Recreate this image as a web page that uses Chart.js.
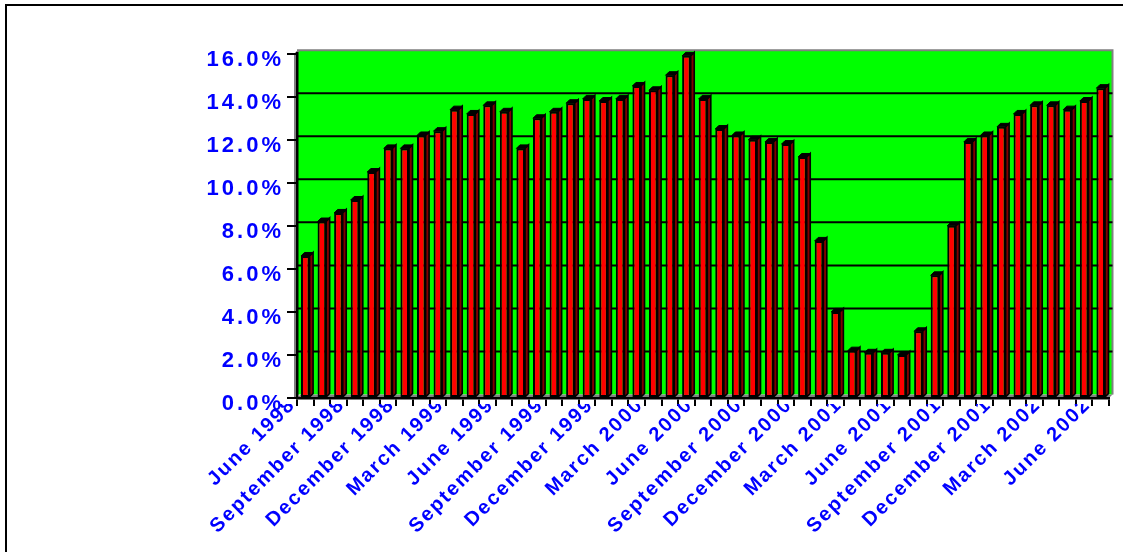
<!DOCTYPE html>
<html>
<head>
<meta charset="utf-8">
<script src="https://cdn.jsdelivr.net/npm/chart.js@4/dist/chart.umd.min.js"></script>
<style>
  html, body { margin: 0; padding: 0; background: #ffffff; overflow: hidden; }
  canvas { display: block; }
</style>
</head>
<body>
<canvas id="chart" width="1126" height="552"></canvas>
<script>
// Monthly categories, June 1998 – June 2002
const months = [
  'June 1998', 'July 1998', 'August 1998', 'September 1998', 'October 1998', 'November 1998', 'December 1998',
  'January 1999', 'February 1999', 'March 1999', 'April 1999', 'May 1999', 'June 1999', 'July 1999',
  'August 1999', 'September 1999', 'October 1999', 'November 1999', 'December 1999',
  'January 2000', 'February 2000', 'March 2000', 'April 2000', 'May 2000', 'June 2000', 'July 2000',
  'August 2000', 'September 2000', 'October 2000', 'November 2000', 'December 2000',
  'January 2001', 'February 2001', 'March 2001', 'April 2001', 'May 2001', 'June 2001', 'July 2001',
  'August 2001', 'September 2001', 'October 2001', 'November 2001', 'December 2001',
  'January 2002', 'February 2002', 'March 2002', 'April 2002', 'May 2002', 'June 2002'
];

// Rate for each month, in percent
const rates = [
  6.6, 8.2, 8.6, 9.2, 10.5, 11.6, 11.6,
  12.2, 12.4, 13.4, 13.2, 13.6, 13.3, 11.6,
  13.0, 13.3, 13.7, 13.9, 13.8,
  13.9, 14.5, 14.3, 15.0, 15.9, 13.9, 12.5,
  12.2, 12.0, 11.9, 11.8, 11.2,
  7.3, 4.0, 2.2, 2.1, 2.1, 2.0, 3.1,
  5.7, 8.0, 11.9, 12.2, 12.6,
  13.2, 13.6, 13.6, 13.4, 13.8, 14.4
];

// Value axis ticks, in percent
const yTickValues = [0, 2, 4, 6, 8, 10, 12, 14, 16];

// Every third month carries a label
const labelEvery = 3;

const DEPTH = 3.5;
const FONT = "'Liberation Sans', Arial, sans-serif";
const BLUE = '#0000ff';
const GREEN = '#00ff00';
const GRAY = '#808080';

// Category axis whose labels are clipped just below the tick marks
const BaseCategory = Chart.registry.getScale('category');
class ClippedCategory extends BaseCategory {
  drawLabels(chartArea) {
    const ctx = this.ctx;
    ctx.save();
    ctx.letterSpacing = '2px';
    ctx.beginPath();
    ctx.rect(0, this.top + 6, this.chart.width, this.chart.height);
    ctx.clip();
    super.drawLabels(chartArea);
    ctx.restore();
  }
}
ClippedCategory.id = 'clippedCategory';
ClippedCategory.defaults = BaseCategory.defaults;
Chart.register(ClippedCategory);

// Wide letter spacing for the value labels
const spacing = {
  id: 'spacing',
  beforeUpdate(chart) { chart.ctx.letterSpacing = '3px'; },
  beforeDraw(chart) { chart.ctx.letterSpacing = '3px'; }
};

// Outer frame, back wall, floor and back-wall grid lines
const walls = {
  id: 'walls',
  beforeDraw(chart) {
    const ctx = chart.ctx;
    const { left: L, right: R, top: T, bottom: B } = chart.chartArea;
    const y = chart.scales.y;
    ctx.save();
    ctx.fillStyle = '#000';
    ctx.fillRect(6, 4, 1117, 2);
    ctx.fillRect(5, 4, 2, chart.height);

    // back wall
    ctx.fillStyle = GREEN;
    ctx.fillRect(L, T - DEPTH, R + DEPTH - L, B - T);
    ctx.strokeStyle = GRAY;
    ctx.lineWidth = 2;
    ctx.beginPath();
    ctx.moveTo(L, T - DEPTH);
    ctx.lineTo(R + DEPTH, T - DEPTH);
    ctx.lineTo(R + DEPTH, B - DEPTH);
    ctx.stroke();

    // left side wall
    ctx.fillStyle = GRAY;
    ctx.beginPath();
    ctx.moveTo(L - 3, T);
    ctx.lineTo(L - 3 + DEPTH, T - DEPTH);
    ctx.lineTo(L + DEPTH, T - DEPTH);
    ctx.lineTo(L, T);
    ctx.lineTo(L, B);
    ctx.lineTo(L - 3, B);
    ctx.closePath();
    ctx.fill();

    // grid lines on the back wall
    ctx.strokeStyle = '#000';
    ctx.lineWidth = 2;
    yTickValues.forEach(v => {
      if (v === y.min || v === y.max) return;
      const py = y.getPixelForValue(v) - DEPTH;
      ctx.beginPath();
      ctx.moveTo(L, py);
      ctx.lineTo(R + DEPTH, py);
      ctx.stroke();
    });

    // floor
    ctx.fillStyle = GRAY;
    ctx.beginPath();
    ctx.moveTo(L, B);
    ctx.lineTo(L + DEPTH, B - DEPTH);
    ctx.lineTo(R + DEPTH, B - DEPTH);
    ctx.lineTo(R, B);
    ctx.closePath();
    ctx.fill();
    ctx.restore();
  }
};

// Side and top faces of each bar
const barFaces = {
  id: 'barFaces',
  afterDatasetsDraw(chart) {
    const ctx = chart.ctx;
    const meta = chart.getDatasetMeta(0);
    ctx.save();
    ctx.strokeStyle = '#000';
    ctx.lineJoin = 'miter';
    meta.data.forEach(bar => {
      const { x, y, base, width } = bar.getProps(['x', 'y', 'base', 'width'], true);
      const l = x - width / 2, r = x + width / 2;
      ctx.beginPath();
      ctx.moveTo(r, y);
      ctx.lineTo(r + DEPTH, y - DEPTH);
      ctx.lineTo(r + DEPTH, base - DEPTH);
      ctx.lineTo(r, base);
      ctx.closePath();
      ctx.fillStyle = '#800000';
      ctx.fill();
      ctx.lineWidth = 1.6;
      ctx.stroke();

      ctx.beginPath();
      ctx.moveTo(l, y);
      ctx.lineTo(l + DEPTH, y - DEPTH);
      ctx.lineTo(r + DEPTH, y - DEPTH);
      ctx.lineTo(r, y);
      ctx.closePath();
      ctx.fillStyle = '#000';
      ctx.fill();
      ctx.lineWidth = 1;
      ctx.stroke();
    });
    ctx.restore();
  }
};

new Chart(document.getElementById('chart'), {
  type: 'bar',
  data: {
    labels: months,
    datasets: [{
      data: rates,
      backgroundColor: '#ff0000',
      borderColor: '#000000',
      borderWidth: 2,
      borderSkipped: false,
      barPercentage: 0.52,
      categoryPercentage: 1.0
    }]
  },
  options: {
    responsive: false,
    devicePixelRatio: 1,
    animation: false,
    events: [],
    layout: { padding: { top: 53.7, right: 17, left: 0, bottom: 0 } },
    plugins: {
      legend: { display: false },
      tooltip: { enabled: false },
      title: { display: false }
    },
    scales: {
      x: {
        type: 'clippedCategory',
        offset: true,
        grid: {
          offset: true,
          drawOnChartArea: false,
          drawTicks: true,
          tickLength: 8,
          color: '#000',
          lineWidth: 2
        },
        border: { display: true, color: '#000', width: 2.5 },
        ticks: {
          autoSkip: false,
          minRotation: 45,
          maxRotation: 45,
          padding: -13,
          labelOffset: -13,
          color: BLUE,
          font: { family: FONT, size: 20, weight: 'bold' },
          callback: (value, index) => (index % labelEvery === 0 ? months[index] : '')
        },
        afterFit: (scale) => { scale.height = 552 - 398; }
      },
      y: {
        min: 0,
        max: 16,
        afterBuildTicks: (scale) => { scale.ticks = yTickValues.map(v => ({ value: v })); },
        grid: {
          drawOnChartArea: false,
          drawTicks: true,
          tickLength: 10,
          color: '#000',
          lineWidth: 2
        },
        border: { display: true, color: '#000', width: 2.5 },
        ticks: {
          padding: 3,
          labelOffset: 6,
          color: BLUE,
          font: { family: FONT, size: 22, weight: 'bold' },
          callback: (value) => value.toFixed(1) + '%'
        },
        afterFit: (scale) => { scale.width = 297; }
      }
    }
  },
  plugins: [spacing, walls, barFaces]
});
</script>
</body>
</html>
